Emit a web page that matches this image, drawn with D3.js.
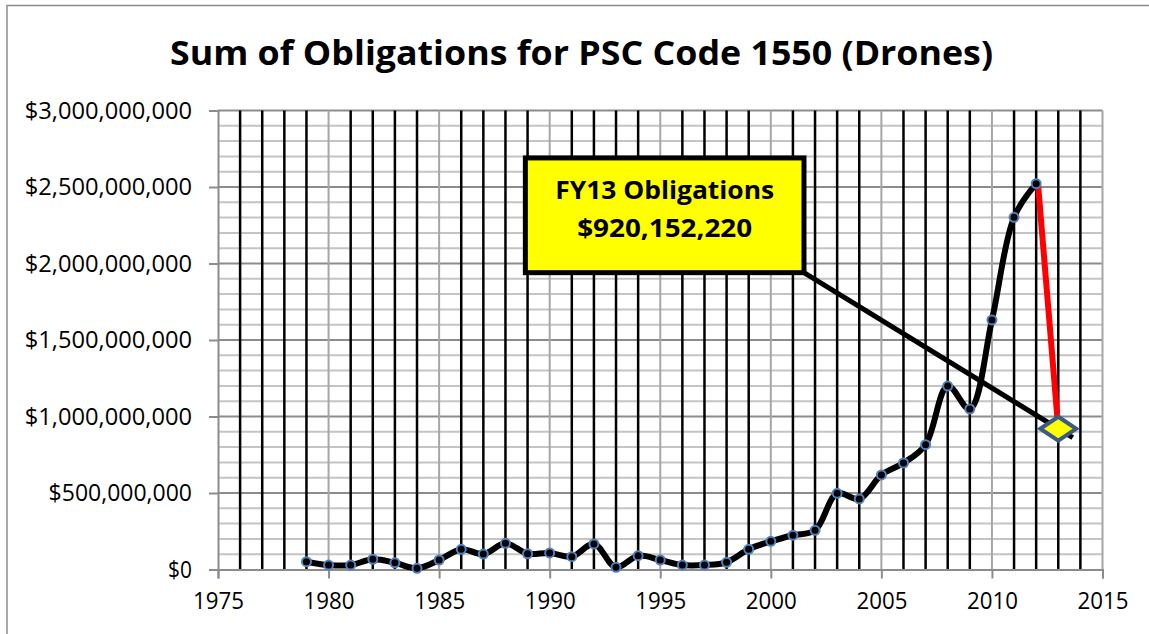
<!DOCTYPE html>
<html>
<head>
<meta charset="utf-8">
<script src="https://cdn.jsdelivr.net/npm/d3@7"></script>
<style>
  body { margin: 0; background: #fff; }
  text { font-family: "Open Sans", sans-serif; }
</style>
</head>
<body>
<div id="chart"></div>
<script>
// data
var years = [1979, 1980, 1981, 1982, 1983, 1984, 1985, 1986, 1987, 1988,
             1989, 1990, 1991, 1992, 1993, 1994, 1995, 1996, 1997, 1998,
             1999, 2000, 2001, 2002, 2003, 2004, 2005, 2006, 2007, 2008,
             2009, 2010, 2011, 2012];
var obligations = [51e6, 29e6, 29e6, 67e6, 44e6, 8e6, 62e6, 132e6, 101e6, 171e6,
                   103e6, 108e6, 84e6, 167e6, 14e6, 90e6, 62e6, 29e6, 29e6, 47e6,
                   132e6, 184e6, 224e6, 256e6, 498e6, 461e6, 618e6, 696e6, 816e6, 1199e6,
                   1049e6, 1631e6, 2302e6, 2522e6];
var fy13Year = 2013;
var fy13Value = 920152220;
var xTicks = [1975, 1980, 1985, 1990, 1995, 2000, 2005, 2010, 2015];
var yTicks = [0, 500e6, 1000e6, 1500e6, 2000e6, 2500e6, 3000e6];
var titleText = "Sum of Obligations for PSC Code 1550 (Drones)";
var calloutLines = ["FY13 Obligations", "$920,152,220"];

var W = 1149, H = 634;
var margin = {top: 110.5, right: 46.5, bottom: 64.5, left: 218};

var svg = d3.select("#chart")
    .append("svg")
    .attr("width", W)
    .attr("height", H);

// outer chart border (runs off the right and bottom of the picture)
svg.append("rect")
    .attr("x", 7).attr("y", 5.5)
    .attr("width", W + 20).attr("height", H + 20)
    .attr("fill", "none")
    .attr("stroke", "#8c8c8c")
    .attr("stroke-width", 1.5);

var x = d3.scaleLinear()
    .domain([1975, 2015])
    .range([margin.left, W - margin.right]);
var y = d3.scaleLinear()
    .domain([0, 3e9])
    .range([H - margin.bottom, margin.top]);

// minor horizontal gridlines every $100M
var minorY = d3.range(100e6, 3e9, 100e6).filter(function(v) { return v % 500e6 !== 0; });
svg.append("g").selectAll("line")
    .data(minorY)
    .enter().append("line")
    .attr("x1", x(1975)).attr("x2", x(2015))
    .attr("y1", function(d) { return y(d); })
    .attr("y2", function(d) { return y(d); })
    .attr("stroke", "#c4c4c4")
    .attr("stroke-width", 2);

// major horizontal gridlines
svg.append("g").selectAll("line")
    .data(yTicks.slice(1))
    .enter().append("line")
    .attr("x1", x(1975)).attr("x2", x(2015))
    .attr("y1", function(d) { return y(d); })
    .attr("y2", function(d) { return y(d); })
    .attr("stroke", "#8c8c8c")
    .attr("stroke-width", 2);

// major vertical gridlines (every 5 years, grey)
svg.append("g").selectAll("line")
    .data(xTicks.slice(1))
    .enter().append("line")
    .attr("x1", function(d) { return x(d); })
    .attr("x2", function(d) { return x(d); })
    .attr("y1", y(0)).attr("y2", y(3e9))
    .attr("stroke", "#a6a6a6")
    .attr("stroke-width", 2);

// minor vertical gridlines (every year, black)
var minorX = d3.range(1976, 2015).filter(function(v) { return v % 5 !== 0; });
svg.append("g").selectAll("line")
    .data(minorX)
    .enter().append("line")
    .attr("x1", function(d) { return x(d); })
    .attr("x2", function(d) { return x(d); })
    .attr("y1", y(0)).attr("y2", y(3e9))
    .attr("stroke", "#000")
    .attr("stroke-width", 2.5);

// Y axis
var fmt = d3.format("$,.0f");
var yAxis = svg.append("g")
    .attr("transform", "translate(" + x(1975) + ",0)")
    .call(d3.axisLeft(y).tickValues(yTicks).tickFormat(fmt).tickSize(9).tickPadding(17));
yAxis.selectAll("path, line").attr("stroke", "#8c8c8c").attr("stroke-width", 2);
yAxis.selectAll("text").attr("font-size", 24).attr("fill", "#000")
    .attr("font-family", "'Open Sans', sans-serif")
    .each(function() {
        // squeeze to Calibri-like width
        var t = d3.select(this);
        var n = t.text().length;
        t.attr("textLength", n * 11.95).attr("lengthAdjust", "spacingAndGlyphs");
    });

// X axis
var xAxis = svg.append("g")
    .attr("transform", "translate(0," + y(0) + ")")
    .call(d3.axisBottom(x).tickValues(xTicks).tickFormat(d3.format("d")).tickSize(9).tickPadding(13));
xAxis.selectAll("path, line").attr("stroke", "#8c8c8c").attr("stroke-width", 2);
xAxis.selectAll("text").attr("font-size", 24).attr("fill", "#000")
    .attr("font-family", "'Open Sans', sans-serif")
    .attr("textLength", 51).attr("lengthAdjust", "spacingAndGlyphs");

// title
svg.append("text")
    .attr("x", 581.5).attr("y", 65)
    .attr("text-anchor", "middle")
    .attr("font-size", 34)
    .attr("font-weight", "bold")
    .attr("textLength", 823)
    .attr("lengthAdjust", "spacingAndGlyphs")
    .text(titleText);

var series = years.map(function(d, i) { return {year: d, value: obligations[i]}; });

// smoothed series line
var line = d3.line()
    .x(function(d) { return x(d.year); })
    .y(function(d) { return y(d.value); })
    .curve(d3.curveCatmullRom);
svg.append("path")
    .datum(series)
    .attr("d", line)
    .attr("fill", "none")
    .attr("stroke", "#000")
    .attr("stroke-width", 6)
    .attr("stroke-linejoin", "round");

// red drop 2012 -> 2013
var last = series[series.length - 1];
svg.append("line")
    .attr("x1", x(last.year) + 2).attr("y1", y(last.value) + 2)
    .attr("x2", x(fy13Year)).attr("y2", y(fy13Value))
    .attr("stroke", "#ff0000")
    .attr("stroke-width", 6);

// markers
svg.append("g").selectAll("circle")
    .data(series)
    .enter().append("circle")
    .attr("cx", function(d) { return x(d.year); })
    .attr("cy", function(d) { return y(d.value); })
    .attr("r", 4.5)
    .attr("fill", "#000")
    .attr("stroke", "#4f81bd")
    .attr("stroke-width", 2);

// callout box placed in data units
var box = {x0: 1988.9, x1: 2001.5, y0: 2.69e9, y1: 1.94e9};
var bx = x(box.x0), bw = x(box.x1) - x(box.x0);
var by = y(box.y0), bh = y(box.y1) - y(box.y0);

// leader line from box corner through the FY13 point
var px = x(fy13Year), py = y(fy13Value);
var dx = px - (bx + bw), dy = py - (by + bh);
var len = Math.sqrt(dx * dx + dy * dy);
svg.append("line")
    .attr("x1", bx + bw).attr("y1", by + bh)
    .attr("x2", px + dx / len * 17).attr("y2", py + dy / len * 17)
    .attr("stroke", "#000")
    .attr("stroke-width", 5);

svg.append("rect")
    .attr("x", bx).attr("y", by)
    .attr("width", bw).attr("height", bh)
    .attr("fill", "#ffff00")
    .attr("stroke", "#000")
    .attr("stroke-width", 5);

svg.append("text")
    .attr("x", bx + bw / 2).attr("y", by + 41)
    .attr("text-anchor", "middle")
    .attr("font-size", 25).attr("font-weight", "bold")
    .attr("textLength", 219).attr("lengthAdjust", "spacingAndGlyphs")
    .text(calloutLines[0]);
svg.append("text")
    .attr("x", bx + bw / 2).attr("y", by + 79)
    .attr("text-anchor", "middle")
    .attr("font-size", 25).attr("font-weight", "bold")
    .attr("textLength", 175).attr("lengthAdjust", "spacingAndGlyphs")
    .text(calloutLines[1]);

// FY13 diamond
svg.append("path")
    .attr("d", "M" + (px - 18) + "," + py + "L" + px + "," + (py - 12) +
               "L" + (px + 18) + "," + py + "L" + px + "," + (py + 12) + "Z")
    .attr("fill", "#ffff00")
    .attr("stroke", "#3c5a82")
    .attr("stroke-width", 4)
    .attr("stroke-linejoin", "miter");
</script>
</body>
</html>
